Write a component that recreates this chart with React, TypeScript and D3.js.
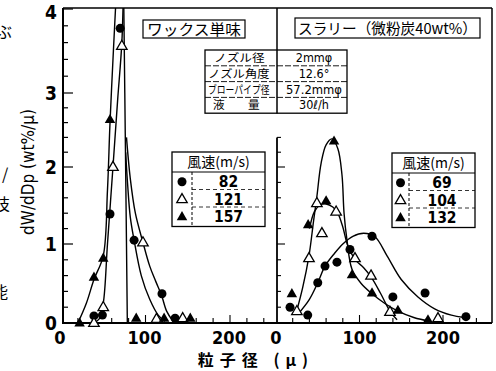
import React from 'react';
import * as d3 from 'd3';

// measured points: [particle size (μ), dW/dDp (wt%/μ)]
const waxSpeeds = ['82', '121', '157'];
const slurrySpeeds = ['69', '104', '132'];

const wax82 = [[39, 0.09], [49, 0.1], [58, 1.39], [70, 3.77], [86.5, 1.05], [119.5, 0.37], [135, 0.06]];
const wax121 = [[39, 0], [50, 0.2], [61.5, 2.0], [72, 3.56], [97, 1.02], [113, 0.05], [144, 0.06]];
const wax157 = [[22, 0], [39, 0.58], [50, 0.82], [58, 2.64], [89, 0.06], [122, 0.06], [153, 0.06]];

const slurry69 = [[16.8, 0.2], [38, 0.1], [50, 0.51], [58.7, 0.72], [73, 0.77], [88.6, 0.93], [115, 1.1], [140, 0.33], [178.5, 0.38], [227.5, 0.08]];
const slurry104 = [[25, 0.15], [39.5, 0.82], [49, 1.53], [55, 1.14], [72, 1.42], [94.6, 0.82], [113.8, 0.6], [136.5, 0.14], [194, 0.06]];
const slurry132 = [[19, 0.37], [38.5, 1.25], [60, 1.56], [69.5, 2.35], [91, 0.61], [115, 0.38], [146, 0.16], [182, 0.04]];

// hand-drawn fitted curves
const waxCurves = [
  [[20, 0], [30, 0.25], [39, 0.55], [50, 0.85], [55, 1.7], [58, 2.6], [62, 3.5], [66, 4.3]],
  [[38, 0], [45, 0.05], [50, 0.25], [55, 1.0], [61.5, 2.0], [67, 2.9], [72, 3.6], [74, 4.3]],
  [[74, 4.3], [75.5, 3.0], [77, 1.5], [78, 0.5], [78.5, 0]],
  [[76.5, 2.2], [79, 1.75], [82, 1.35], [86.5, 1.05], [95, 0.6], [105, 0.3], [115, 0.1], [123, 0.02]],
  [[77.5, 2.4], [82, 1.85], [88, 1.4], [97, 1.02], [105, 0.72], [112, 0.53], [119, 0.35], [125, 0.15], [132, 0.03]],
];
const slurryCurves = [
  [[24, 0.12], [32, 0.45], [39.5, 0.85], [45, 1.3], [49, 1.62], [54, 2.05], [60, 2.3], [67, 2.38], [74, 2.25], [79, 1.9], [81.5, 1.4], [85, 1.05], [91, 0.68], [102, 0.5], [115, 0.37], [130, 0.25], [146, 0.15], [165, 0.07], [185, 0.02]],
  [[40, 1.2], [46, 1.42], [52, 1.5], [60, 1.52], [68, 1.48], [74, 1.4], [80, 1.22], [86, 0.98], [95, 0.8], [105, 0.7], [114, 0.58], [125, 0.38], [137, 0.14], [145, 0.04]],
  [[27, 0.12], [40, 0.3], [50, 0.51], [58.7, 0.72], [70, 0.88], [80, 1.0], [92, 1.1], [105, 1.14], [118, 1.1], [133, 0.85], [150, 0.55], [170, 0.33], [190, 0.18], [210, 0.1], [225, 0.07]],
];

const yTicks = [0, 1, 2, 3, 4];
const xTickLabels = [0, 100, 200];
const conditions = [
  ['ノズル径', '2mmφ'],
  ['ノズル角度', '12.6°'],
  ['ブローパイプ径', '57.2mmφ'],
  ['液　　量', '30ℓ/h'],
];

const W = 496;
const H = 371;
const top = 8;
const bottom = 323;
const left = 63;
const mid = 277;
const right = 492;

const xL = d3.scaleLinear().domain([0, 100]).range([61, 145.5]);
const xR = d3.scaleLinear().domain([0, 100]).range([276, 359.5]);
const y = d3.scaleLinear().domain([0, 1, 2, 3, 4]).range([323, 244, 167, 93, 9]);

const jp = '"Noto Sans CJK JP", sans-serif';
const num = '"DejaVu Sans Condensed", "DejaVu Sans", sans-serif';

function Marker({ kind, cx, cy }: { kind: number; cx: number; cy: number }) {
  if (kind === 0) return <circle cx={cx} cy={cy} r={4.5} fill="#000" />;
  const s = 10.5;
  const h = s * 0.87;
  const p = `M${cx},${cy - h * 0.62}L${cx + s / 2},${cy + h * 0.38}L${cx - s / 2},${cy + h * 0.38}Z`;
  return kind === 1
    ? <path d={p} fill="#fff" stroke="#000" strokeWidth={1.3} />
    : <path d={p} fill="#000" />;
}

function Legend({ x0, y0, w, div, labels }: { x0: number; y0: number; w: number; div: number; labels: string[] }) {
  const hh = 20;
  const rh = 17.5;
  const hTot = hh + rh * 3 + 2;
  return (
    <g>
      <rect x={x0} y={y0} width={w} height={hTot} fill="#fff" stroke="#000" strokeWidth={1.3} />
      <line x1={x0} x2={x0 + w} y1={y0 + hh} y2={y0 + hh} stroke="#000" strokeWidth={1} />
      <line x1={x0 + div} x2={x0 + div} y1={y0 + hh} y2={y0 + hTot} stroke="#000" strokeWidth={1} strokeDasharray="3,2" />
      <line x1={x0 + div} x2={x0 + w} y1={y0 + hh + rh} y2={y0 + hh + rh} stroke="#000" strokeWidth={0.8} strokeDasharray="4,3" />
      <line x1={x0 + div} x2={x0 + w} y1={y0 + hh + rh * 2} y2={y0 + hh + rh * 2} stroke="#000" strokeWidth={0.8} strokeDasharray="4,3" />
      <text x={x0 + w / 2} y={y0 + 15} textAnchor="middle" fontFamily={jp} fontSize={14}>風速(m/s)</text>
      {labels.map((l, i) => (
        <g key={l}>
          <Marker kind={i} cx={x0 + div / 2} cy={y0 + hh + rh * i + rh / 2 + 1} />
          <text x={x0 + div + (w - div) / 2} y={y0 + hh + rh * i + rh / 2 + 6.5} textAnchor="middle"
            fontFamily={num} fontWeight="bold" fontSize={15.5}>{l}</text>
        </g>
      ))}
    </g>
  );
}

export default function App() {
  const line = (xs: d3.ScaleLinear<number, number>) =>
    d3.line<number[]>().x(d => xs(d[0])).y(d => y(d[1])).curve(d3.curveCatmullRom.alpha(0.5));

  const yMinor = d3.range(0, 4.01, 0.2);
  const yMinorR = d3.range(0, 2.41, 0.2);
  const xMinorL = d3.range(20, 260, 20);
  const xMinorR = d3.range(20, 260, 20);

  const tblX = 205, tblY = 50, tblW = 142, rowH = 15.8;
  // horizontal squeeze of each row label (natural width 11px per glyph)
  const labScale = [1.15, 1.12, 0.8, 1.06];
  const labDx = [6, 0, 0, 5];

  return (
    <svg width={W} height={H} style={{ position: 'absolute', left: 0, top: 0, background: '#fff' }}>
      <defs>
        <clipPath id="cl"><rect x={left} y={top} width={mid - left} height={bottom - top} /></clipPath>
        <clipPath id="cr"><rect x={mid} y={top} width={right - mid} height={bottom - top} /></clipPath>
      </defs>

      {/* frame */}
      <line x1={left} x2={right} y1={top} y2={top} stroke="#000" strokeWidth={1.5} />
      <line x1={right} x2={right} y1={top} y2={bottom} stroke="#000" strokeWidth={1.5} />
      <line x1={left} x2={left} y1={top} y2={bottom} stroke="#000" strokeWidth={2} />
      <line x1={left - 1} x2={right} y1={bottom} y2={bottom} stroke="#000" strokeWidth={2.2} />
      <line x1={mid} x2={mid} y1={top} y2={tblY + rowH * 4} stroke="#000" strokeWidth={1.5} />
      <line x1={mid} x2={mid} y1={y(2.4)} y2={bottom} stroke="#000" strokeWidth={1.8} />

      {/* y ticks */}
      {yMinor.map(v => (
        <line key={'l' + v} x1={left} x2={left + (Math.abs(v - Math.round(v)) < 1e-6 ? 10 : 5)} y1={y(v)} y2={y(v)} stroke="#000" strokeWidth={1.2} />
      ))}
      {yMinorR.map(v => (
        <line key={'r' + v} x1={mid} x2={mid + (Math.abs(v - Math.round(v)) < 1e-6 ? 8 : 4)} y1={y(v)} y2={y(v)} stroke="#000" strokeWidth={1.1} />
      ))}
      {yTicks.map(v => (
        <text key={v} x={57} y={v === 4 ? 19 : y(v) + 7} textAnchor="end" fontFamily={num} fontWeight="bold" fontSize={19}>{v}</text>
      ))}

      {/* x ticks */}
      {xMinorL.filter(v => xL(v) < mid - 3).map(v => (
        <line key={'xl' + v} x1={xL(v)} x2={xL(v)} y1={bottom} y2={bottom - (v % 100 === 0 ? 8 : 5)} stroke="#000" strokeWidth={1.1} />
      ))}
      {xMinorR.filter(v => xR(v) < right - 3).map(v => (
        <line key={'xr' + v} x1={xR(v)} x2={xR(v)} y1={bottom} y2={bottom - (v % 100 === 0 ? 8 : 5)} stroke="#000" strokeWidth={1.1} />
      ))}
      {xTickLabels.map(v => (
        <g key={'t' + v}>
          <text x={xL(v) - 1} y={344} textAnchor="middle" fontFamily={num} fontWeight="bold" fontSize={18}>{v}</text>
          <text x={xR(v)} y={344} textAnchor="middle" fontFamily={num} fontWeight="bold" fontSize={18}>{v}</text>
        </g>
      ))}

      {/* axis titles */}
      <text transform="translate(34,172) rotate(-90)" textAnchor="middle" fontFamily={num} fontSize={17}>dW/dDp (wt%/μ)</text>
      <text x={256} y={366} textAnchor="middle" fontFamily={jp} fontWeight="bold" fontSize={16} letterSpacing={6}>粒子径 (μ)</text>

      {/* curves */}
      <g clipPath="url(#cl)" fill="none" stroke="#000" strokeWidth={1.4}>
        {waxCurves.map((c, i) => <path key={i} d={line(xL)(c) || ''} />)}
      </g>
      <g clipPath="url(#cr)" fill="none" stroke="#000" strokeWidth={1.4}>
        {slurryCurves.map((c, i) => <path key={i} d={line(xR)(c) || ''} />)}
      </g>

      {/* points */}
      {[wax82, wax121, wax157].map((s, k) => s.map((d, i) => (
        <Marker key={`w${k}-${i}`} kind={k} cx={xL(d[0])} cy={y(d[1])} />
      )))}
      {[slurry69, slurry104, slurry132].map((s, k) => s.map((d, i) => (
        <Marker key={`s${k}-${i}`} kind={k} cx={xR(d[0])} cy={y(d[1])} />
      )))}

      {/* panel titles */}
      <rect x={143} y={20} width={102} height={18} fill="#fff" stroke="#000" strokeWidth={1.2} />
      <text x={147} y={35} fontFamily={jp} fontSize={15} textLength={94} lengthAdjust="spacingAndGlyphs">ワックス単味</text>
      <rect x={295} y={18} width={185} height={20} fill="#fff" stroke="#000" strokeWidth={1.2} />
      <text x={298} y={34} fontFamily={jp} fontSize={15} textLength={179} lengthAdjust="spacingAndGlyphs">スラリー（微粉炭40wt%）</text>

      {/* conditions table */}
      <rect x={tblX} y={tblY} width={tblW} height={rowH * 4} fill="#fff" stroke="#000" strokeWidth={1.3} />
      <line x1={mid} x2={mid} y1={tblY} y2={tblY + rowH * 4} stroke="#000" strokeWidth={1.5} />
      {[1, 2, 3].map(i => (
        <line key={i} x1={tblX} x2={tblX + tblW} y1={tblY + rowH * i} y2={tblY + rowH * i} stroke="#000" strokeWidth={0.9} strokeDasharray="6,2" />
      ))}
      {conditions.map((r, i) => (
        <g key={r[0]}>
          <text transform={`translate(${tblX + 3 + labDx[i]},${tblY + rowH * i + 12}) scale(${labScale[i]},1)`}
            fontFamily={jp} fontSize={11}>{r[0]}</text>
          <text x={(mid + tblX + tblW) / 2 + 2} y={tblY + rowH * i + 12} textAnchor="middle" fontFamily={num} fontSize={12.5}
            textLength={i === 2 ? 56 : undefined} lengthAdjust="spacingAndGlyphs">{r[1]}</text>
        </g>
      ))}

      {/* legends */}
      <Legend x0={172} y0={152} w={93} div={20} labels={waxSpeeds} />
      <Legend x0={392} y0={153} w={83} div={17} labels={slurrySpeeds} />

      {/* fragments of neighbouring page text */}
      <text x={-4} y={38} fontFamily={jp} fontSize={16}>ぶ</text>
      <text x={2} y={180} fontFamily={jp} fontSize={16}>/</text>
      <text x={-6} y={210} fontFamily={jp} fontSize={16}>技</text>
      <text x={-8} y={298} fontFamily={jp} fontSize={16}>能</text>
    </svg>
  );
}
